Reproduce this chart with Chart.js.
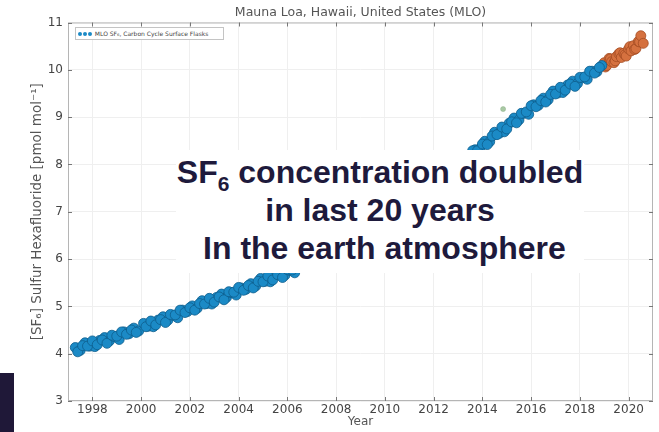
<!DOCTYPE html>
<html>
<head>
<meta charset="utf-8">
<script src="https://cdn.jsdelivr.net/npm/chart.js@4.4.1/dist/chart.umd.min.js"></script>
<style>
  body { margin: 0; background: #fff; }
  #wrap { position: relative; width: 659px; height: 432px; overflow: hidden; }
  #legend { position: absolute; left: 75px; top: 27px; width: 147px; height: 11px; border: 1px solid #c4c4c4; background: #fff;
            font: 6px 'DejaVu Sans', sans-serif; color: #444; line-height: 11px; white-space: nowrap; overflow: hidden; }
  #legend .mk { display: inline-block; width: 4px; height: 4px; border-radius: 2px; background: #1b8ac6; margin-right: 1px; vertical-align: middle; }
  #note { position: absolute; left: 176px; top: 150px; width: 408px; height: 123px; background: #fff; box-sizing: border-box; padding-top: 3px;
          text-align: center; font: bold 32px 'Liberation Sans', Arial, sans-serif; color: #1e1a3c; line-height: 38px; white-space: nowrap; }
  #note sub { font-size: 21px; vertical-align: baseline; position: relative; top: 8px; line-height: 0; }
  #bar { position: absolute; left: 0; top: 373px; width: 14px; height: 59px; background: #1f1838; }
</style>
</head>
<body>
<div id="wrap">
  <canvas id="c" width="659" height="432"></canvas>
  <div id="legend">&nbsp;<span class="mk"></span><span class="mk"></span><span class="mk"></span> MLO SF₆, Carbon Cycle Surface Flasks</div>
  <div id="note">SF<sub>6</sub> concentration doubled<br>in last 20 years<br>&nbsp;In the earth atmosphere</div>
  <div id="bar"></div>
</div>
<script>
// flask samples (decimal year, pmol/mol)
var flaskYears = [
  1997.3, 1997.5, 1997.7, 1997.9, 1998.1, 1998.3, 1998.5, 1998.7, 1998.9, 1999.1, 1999.3, 1999.5, 1999.7, 1999.9,
  2000.1, 2000.3, 2000.5, 2000.7, 2000.9, 2001.1, 2001.3, 2001.5, 2001.7, 2001.9, 2002.1, 2002.3, 2002.5, 2002.7, 2002.9,
  2003.1, 2003.3, 2003.5, 2003.7, 2003.9, 2004.1, 2004.3, 2004.5, 2004.7, 2004.9, 2005.1, 2005.3, 2005.5, 2005.7, 2005.9,
  2006.1, 2006.3, 2006.5, 2006.7, 2006.9, 2007.1, 2007.3, 2007.5, 2007.7, 2007.9, 2008.1, 2008.3, 2008.5, 2008.7, 2008.9,
  2009.1, 2009.3, 2009.5, 2009.7, 2009.9, 2010.1, 2010.3, 2010.5, 2010.7, 2010.9, 2011.1, 2011.3, 2011.5, 2011.7, 2011.9,
  2012.1, 2012.3, 2012.5, 2012.7, 2012.9, 2013.1, 2013.3, 2013.5, 2013.7, 2013.9, 2014.1, 2014.3, 2014.5, 2014.7, 2014.9,
  2015.1, 2015.3, 2015.5, 2015.7, 2015.9, 2016.1, 2016.3, 2016.5, 2016.7, 2016.9, 2017.1, 2017.3, 2017.5, 2017.7, 2017.9,
  2018.1, 2018.3, 2018.5, 2018.7, 2018.9
];
var flaskSF6 = [
  4.13, 4.07, 4.23, 4.16, 4.15, 4.28, 4.34, 4.27, 4.36, 4.30, 4.46, 4.42, 4.54, 4.48,
  4.64, 4.58, 4.57, 4.71, 4.78, 4.71, 4.81, 4.76, 4.92, 4.89, 5.01, 4.96, 5.12, 5.06, 5.05,
  5.19, 5.26, 5.19, 5.29, 5.24, 5.39, 5.36, 5.48, 5.43, 5.59, 5.53, 5.52, 5.66, 5.73, 5.66,
  5.76, 5.71, 5.87, 5.84, 5.97, 5.93, 6.10, 6.06, 6.06, 6.22, 6.31, 6.27, 6.39, 6.37, 6.56,
  6.55, 6.70, 6.68, 6.87, 6.84, 6.86, 7.03, 7.13, 7.09, 7.22, 7.20, 7.39, 7.39, 7.54, 7.52,
  7.71, 7.69, 7.72, 7.89, 8.00, 7.97, 8.11, 8.11, 8.31, 8.33, 8.49, 8.48, 8.68, 8.66, 8.69,
  8.87, 8.98, 8.94, 9.08, 9.06, 9.26, 9.25, 9.40, 9.37, 9.55, 9.51, 9.52, 9.68, 9.76, 9.71,
  9.83, 9.80, 9.97, 9.96, 10.09
];
// second flask of each pair
var pairYears = [
  1997.4, 1997.6, 1997.8, 1998.0, 1998.2, 1998.4, 1998.6, 1998.8, 1999.0, 1999.2, 1999.4, 1999.6, 1999.8,
  2000.2, 2000.4, 2000.6, 2000.8, 2001.0, 2001.2, 2001.4, 2001.6, 2001.8, 2002.0, 2002.2, 2002.4, 2002.6, 2002.8,
  2003.0, 2003.2, 2003.4, 2003.6, 2003.8, 2004.0, 2004.2, 2004.4, 2004.6, 2004.8, 2005.0, 2005.2, 2005.4, 2005.6, 2005.8,
  2006.0, 2006.2, 2006.4, 2006.6, 2006.8, 2007.0, 2007.2, 2007.4, 2007.6, 2007.8, 2008.0, 2008.2, 2008.4, 2008.6, 2008.8,
  2009.0, 2009.2, 2009.4, 2009.6, 2009.8, 2010.0, 2010.2, 2010.4, 2010.6, 2010.8, 2011.0, 2011.2, 2011.4, 2011.6, 2011.8,
  2012.0, 2012.2, 2012.4, 2012.6, 2012.8, 2013.0, 2013.2, 2013.4, 2013.6, 2013.8, 2014.0, 2014.2, 2014.4, 2014.6, 2014.8,
  2015.0, 2015.2, 2015.4, 2015.6, 2015.8, 2016.0, 2016.2, 2016.4, 2016.6, 2016.8, 2017.0, 2017.2, 2017.4, 2017.6, 2017.8,
  2018.0, 2018.2, 2018.4, 2018.6, 2018.8
];
var pairSF6 = [
  4.04, 4.17, 4.16, 4.27, 4.19, 4.29, 4.22, 4.39, 4.37, 4.46, 4.41, 4.50, 4.45,
  4.57, 4.69, 4.61, 4.72, 4.66, 4.83, 4.82, 4.92, 4.87, 4.97, 4.92, 5.06, 5.05, 5.17,
  5.09, 5.20, 5.14, 5.31, 5.30, 5.40, 5.34, 5.44, 5.39, 5.53, 5.52, 5.64, 5.56, 5.67, 5.61,
  5.78, 5.77, 5.87, 5.82, 5.93, 5.89, 6.04, 6.04, 6.18, 6.11, 6.24, 6.21, 6.40, 6.42, 6.55,
  6.52, 6.65, 6.63, 6.80, 6.82, 6.97, 6.92, 7.06, 7.03, 7.23, 7.25, 7.38, 7.36, 7.49, 7.47,
  7.64, 7.66, 7.82, 7.78, 7.92, 7.90, 8.11, 8.15, 8.29, 8.29, 8.43, 8.42, 8.60, 8.63, 8.79,
  8.75, 8.90, 8.88, 9.08, 9.11, 9.24, 9.22, 9.35, 9.32, 9.48, 9.49, 9.63, 9.57, 9.70, 9.65,
  9.84, 9.85, 9.97, 9.93, 10.05
];
// most recent (orange) samples
var recentYears = [2019.0, 2019.05, 2019.1, 2019.2, 2019.25, 2019.3, 2019.4, 2019.45, 2019.5, 2019.6, 2019.65, 2019.7, 2019.8, 2019.85,
                   2019.9, 2020.0, 2020.05, 2020.1, 2020.2, 2020.25, 2020.3, 2020.4, 2020.45, 2020.5, 2020.6];
var recentSF6 = [10.15, 10.06, 10.09, 10.24, 10.23, 10.17, 10.15, 10.19, 10.28, 10.34, 10.36, 10.26, 10.35, 10.32,
                 10.29, 10.44, 10.49, 10.40, 10.51, 10.43, 10.45, 10.60, 10.59, 10.72, 10.56];
// single flagged sample
var outlierYears = [2014.85];
var outlierSF6 = [9.17];

var yearTicks = [1998, 2000, 2002, 2004, 2006, 2008, 2010, 2012, 2014, 2016, 2018, 2020];

function pts(xs, ys) {
  return xs.map(function (x, i) { return { x: x, y: ys[i] }; });
}

Chart.defaults.font.family = "'DejaVu Sans', sans-serif";

var framePlugin = {
  id: 'frame',
  beforeDatasetsDraw: function (chart) {
    var ctx = chart.ctx, a = chart.chartArea, x = chart.scales.x, y = chart.scales.y;
    ctx.save();
    ctx.strokeStyle = '#b5b5b5';
    ctx.lineWidth = 1;
    ctx.strokeRect(a.left + 0.5, a.top + 0.5, a.right - a.left - 1, a.bottom - a.top - 1);
    ctx.strokeStyle = '#777';
    ctx.beginPath();
    x.ticks.forEach(function (t) {
      var px = Math.round(x.getPixelForValue(t.value)) + 0.5;
      ctx.moveTo(px, a.bottom); ctx.lineTo(px, a.bottom - 4);
      ctx.moveTo(px, a.top); ctx.lineTo(px, a.top + 4);
    });
    y.ticks.forEach(function (t) {
      var py = Math.round(y.getPixelForValue(t.value)) + 0.5;
      ctx.moveTo(a.left, py); ctx.lineTo(a.left + 4, py);
      ctx.moveTo(a.right, py); ctx.lineTo(a.right - 4, py);
    });
    ctx.stroke();
    ctx.restore();
  }
};

new Chart(document.getElementById('c'), {
  type: 'scatter',
  data: {
    datasets: [
      {
        label: 'MLO SF6, Carbon Cycle Surface Flasks',
        data: pts(flaskYears, flaskSF6).concat(pts(pairYears, pairSF6)),
        backgroundColor: '#1b8ac6',
        borderColor: '#0e5d8c',
        borderWidth: 0.8,
        pointRadius: 5
      },
      {
        label: 'recent',
        data: pts(recentYears, recentSF6),
        backgroundColor: '#d5713f',
        borderColor: '#a34b22',
        borderWidth: 0.8,
        pointRadius: 5
      },
      {
        label: 'flagged',
        data: pts(outlierYears, outlierSF6),
        backgroundColor: '#a9c9a4',
        borderColor: '#8fb08a',
        borderWidth: 0.5,
        pointRadius: 2.5
      }
    ]
  },
  options: {
    responsive: false,
    animation: false,
    layout: { padding: { left: 0, right: 6, top: 0, bottom: 0 } },
    plugins: {
      legend: { display: false },
      tooltip: { enabled: false },
      title: {
        display: true,
        fullSize: false,
        text: 'Mauna Loa, Hawaii, United States (MLO)',
        color: '#555',
        font: { size: 12.5, weight: 'normal' },
        padding: { top: 5, bottom: 2.5 }
      }
    },
    scales: {
      x: {
        type: 'linear',
        min: 1997,
        max: 2021,
        afterBuildTicks: function (scale) {
          scale.ticks = yearTicks.map(function (v) { return { value: v }; });
        },
        afterFit: function (scale) { scale.height = 31; },
        grid: { color: '#efefef', drawTicks: false },
        border: { display: false },
        ticks: { color: '#444', font: { size: 12 }, padding: 2, maxRotation: 0, autoSkip: false,
                 callback: function (v) { return String(v); } },
        title: { display: true, text: 'Year', color: '#555', font: { size: 12 }, padding: { top: 0, bottom: 2.8 } }
      },
      y: {
        min: 3,
        max: 11,
        afterFit: function (scale) { scale.width = 68; },
        grid: { color: '#efefef', drawTicks: false },
        border: { display: false },
        ticks: { stepSize: 1, color: '#444', font: { size: 12 }, padding: 5 },
        title: { display: true, text: '[SF₆] Sulfur Hexafluoride [pmol mol⁻¹]', color: '#555', font: { size: 13.5 }, padding: { top: 29, bottom: 0 } }
      }
    }
  },
  plugins: [framePlugin]
});
</script>
</body>
</html>
